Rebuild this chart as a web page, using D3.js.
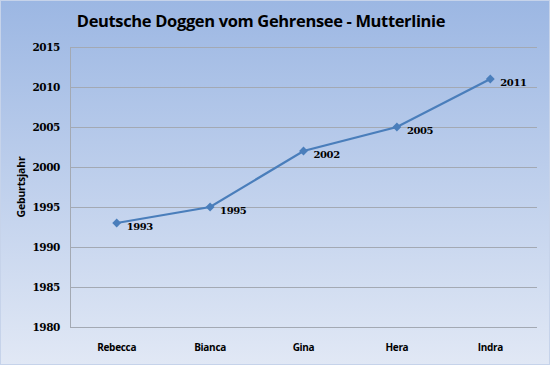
<!DOCTYPE html>
<html>
<head>
<meta charset="utf-8">
<script src="https://cdn.jsdelivr.net/npm/d3@7"></script>
<style>
  body { margin: 0; }
  svg { display: block; }
</style>
</head>
<body>
<svg id="chart"></svg>
<script>
// Daten
var namen = ["Rebecca", "Bianca", "Gina", "Hera", "Indra"];
var jahre = [1993, 1995, 2002, 2005, 2011];
var yTicks = [1980, 1985, 1990, 1995, 2000, 2005, 2010, 2015];

var w = 550, h = 365;
var m = { top: 47, right: 13, bottom: 38, left: 70 };

var svg = d3.select("#chart").attr("width", w).attr("height", h);

// Hintergrund mit Verlauf
var grad = svg.append("defs").append("linearGradient")
  .attr("id", "bg")
  .attr("x1", 0).attr("y1", 0).attr("x2", 0).attr("y2", 1);
grad.append("stop").attr("offset", "0%").attr("stop-color", "#9cb7e3");
grad.append("stop").attr("offset", "100%").attr("stop-color", "#e1e8f5");

svg.append("rect")
  .attr("x", 0.5).attr("y", 0.5)
  .attr("width", w - 1).attr("height", h - 1)
  .attr("fill", "url(#bg)")
  .attr("stroke", "#c6d3ea");

var x = d3.scaleBand()
  .domain(namen)
  .range([m.left, w - m.right]);

var y = d3.scaleLinear()
  .domain([1980, 2015])
  .range([h - m.bottom, m.top]);

// Gitterlinien
svg.append("g")
  .selectAll("line")
  .data(yTicks)
  .enter()
  .append("line")
  .attr("x1", m.left)
  .attr("x2", w - m.right)
  .attr("y1", function(d) { return Math.round(y(d)) + 0.5; })
  .attr("y2", function(d) { return Math.round(y(d)) + 0.5; })
  .attr("stroke", "#a3a9b3")
  .attr("stroke-width", 1);

// linke Achsenlinie
svg.append("line")
  .attr("x1", m.left + 0.5).attr("x2", m.left + 0.5)
  .attr("y1", m.top).attr("y2", h - m.bottom)
  .attr("stroke", "#a3a9b3");

// Y-Achse Beschriftung
svg.append("g")
  .selectAll("text")
  .data(yTicks)
  .enter()
  .append("text")
  .attr("x", m.left - 10)
  .attr("y", function(d) { return y(d) + 4; })
  .attr("text-anchor", "end")
  .style("font-family", "'DejaVu Serif', serif")
  .style("font-weight", "bold")
  .style("font-size", "10.5px")
  .style("letter-spacing", "-0.4px")
  .text(function(d) { return d; });

// X-Achse Beschriftung
svg.append("g")
  .selectAll("text")
  .data(namen)
  .enter()
  .append("text")
  .attr("x", function(d) { return x(d) + x.bandwidth() / 2; })
  .attr("y", h - m.bottom + 24)
  .attr("text-anchor", "middle")
  .style("font-family", "'Open Sans', sans-serif")
  .style("font-weight", "bold")
  .style("font-size", "10px")
  .style("letter-spacing", "-0.3px")
  .text(function(d) { return d; });

// Titel
svg.append("text")
  .attr("x", 261)
  .attr("y", 27)
  .attr("text-anchor", "middle")
  .style("font-family", "'Open Sans', sans-serif")
  .style("font-weight", "bold")
  .style("font-size", "16.5px")
  .style("letter-spacing", "-0.35px")
  .text("Deutsche Doggen vom Gehrensee - Mutterlinie");

// Achsentitel
svg.append("text")
  .attr("transform", "translate(25," + ((m.top + h - m.bottom) / 2) + ") rotate(-90)")
  .attr("text-anchor", "middle")
  .style("font-family", "'Open Sans', sans-serif")
  .style("font-weight", "bold")
  .style("font-size", "10.5px")
  .style("letter-spacing", "-0.2px")
  .text("Geburtsjahr");

// Linie
var punkte = namen.map(function(n, i) { return { name: n, jahr: jahre[i] }; });

var linie = d3.line()
  .x(function(d) { return x(d.name) + x.bandwidth() / 2; })
  .y(function(d) { return y(d.jahr); });

svg.append("path")
  .datum(punkte)
  .attr("d", linie)
  .attr("fill", "none")
  .attr("stroke", "#4a7ebb")
  .attr("stroke-width", 2.25);

svg.append("g")
  .selectAll("path")
  .data(punkte)
  .enter()
  .append("path")
  .attr("d", d3.symbol().type(d3.symbolDiamond2).size(50))
  .attr("transform", function(d) {
    return "translate(" + (x(d.name) + x.bandwidth() / 2) + "," + y(d.jahr) + ")";
  })
  .attr("fill", "#4a7ebb");

// Datenbeschriftung
svg.append("g")
  .selectAll("text")
  .data(punkte)
  .enter()
  .append("text")
  .attr("x", function(d) { return x(d.name) + x.bandwidth() / 2 + 10; })
  .attr("y", function(d) { return y(d.jahr) + 7; })
  .style("font-family", "'DejaVu Serif', serif")
  .style("font-weight", "bold")
  .style("font-size", "10px")
  .style("letter-spacing", "-0.4px")
  .text(function(d) { return d.jahr; });
</script>
</body>
</html>
